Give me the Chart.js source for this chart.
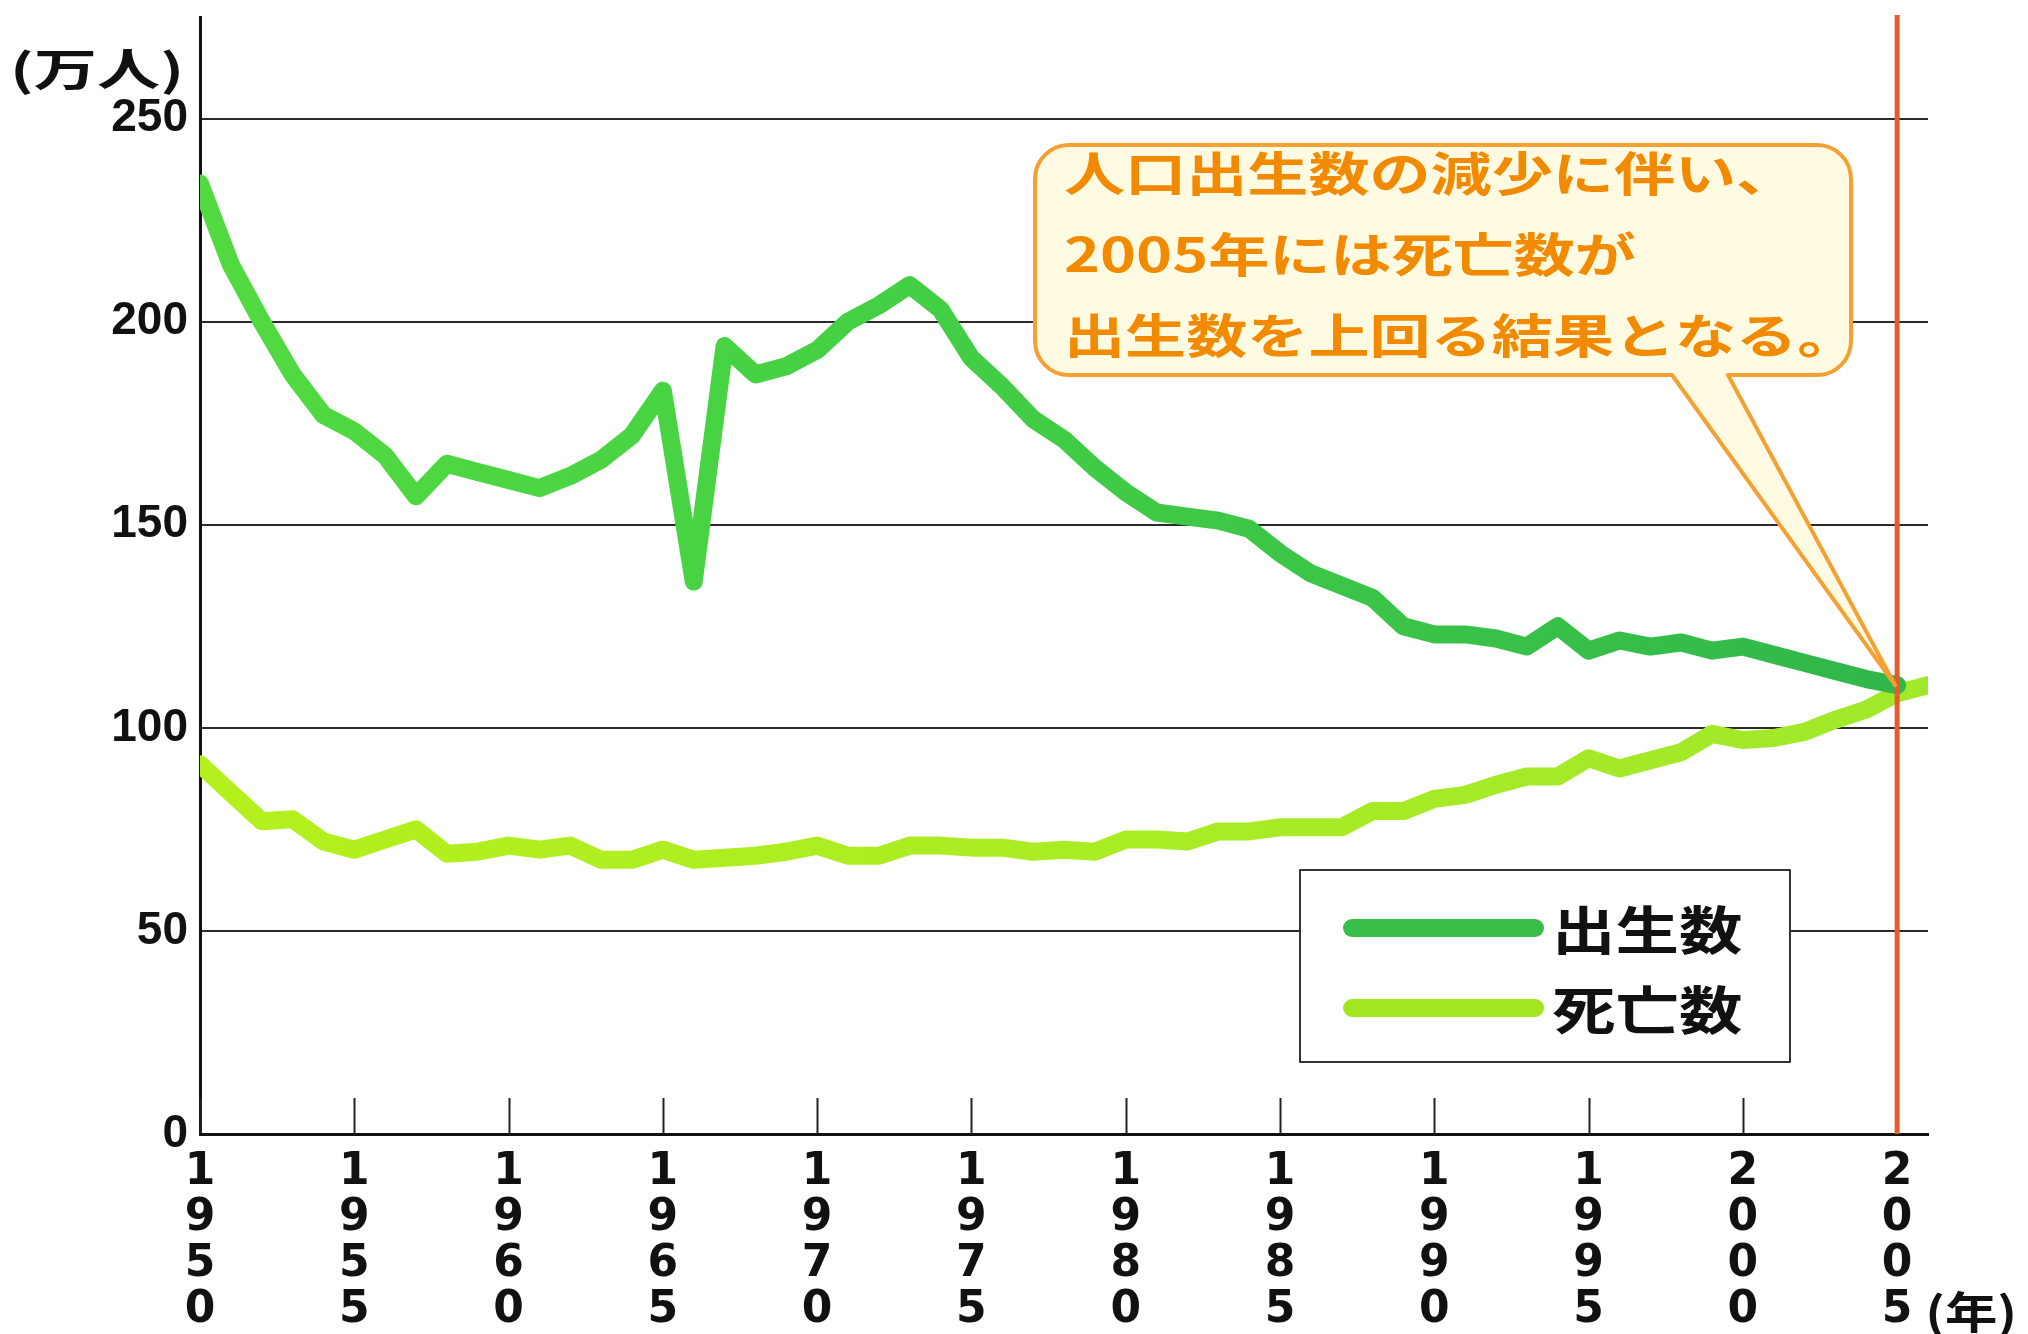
<!DOCTYPE html>
<html lang="ja">
<head>
<meta charset="utf-8">
<title>出生数と死亡数の推移</title>
<script src="https://cdn.jsdelivr.net/npm/chart.js@4.4.1/dist/chart.umd.min.js"></script>
<style>
  html, body { margin: 0; padding: 0; background: #fff; }
  #wrap { width: 2028px; height: 1334px; }
</style>
</head>
<body>
<div id="wrap"><canvas id="vitalChart" width="2028" height="1334"></canvas></div>
<script>
// 出生数・死亡数（万人）
const years = [
  1950, 1951, 1952, 1953, 1954, 1955, 1956, 1957, 1958, 1959,
  1960, 1961, 1962, 1963, 1964, 1965, 1966, 1967, 1968, 1969,
  1970, 1971, 1972, 1973, 1974, 1975, 1976, 1977, 1978, 1979,
  1980, 1981, 1982, 1983, 1984, 1985, 1986, 1987, 1988, 1989,
  1990, 1991, 1992, 1993, 1994, 1995, 1996, 1997, 1998, 1999,
  2000, 2001, 2002, 2003, 2004, 2005, 2006
];
const births = [
  234, 214, 200, 187, 177, 173, 167, 157, 165, 163,
  161, 159, 162, 166, 172, 183, 136, 194, 187, 189,
  193, 200, 204, 209, 203, 191, 184, 176, 171, 164,
  158, 153, 152, 151, 149, 143, 138, 135, 132, 125,
  123, 123, 122, 120, 125, 119, 121.5, 120, 121, 119,
  120, 118, 116, 114, 112, 110.5, null
];
const deaths = [
  91, 84, 77, 77.5, 72, 70, 72.5, 75, 69, 69.5,
  71, 70, 71, 67.5, 67.5, 70, 67.5, 68, 68.5, 69.5,
  71, 68.5, 68.5, 71, 71, 70.5, 70.5, 69.5, 70, 69.5,
  72.5, 72.5, 72, 74.5, 74.5, 75.5, 75.5, 75.5, 79.5, 79.5,
  82.5, 83.5, 86, 88, 88, 92.5, 90, 92, 94, 98.5,
  97, 97.5, 99, 102, 104.5, 108.5, 110.5
];
const seriesNames = ['出生数', '死亡数'];
const xTicks = [1950, 1955, 1960, 1965, 1970, 1975, 1980, 1985, 1990, 1995, 2000, 2005];
const yTicks = [0, 50, 100, 150, 200, 250];
const markYear = 2005;
const noteLines = ['人口出生数の減少に伴い、', '2005年には死亡数が', '出生数を上回る結果となる。'];
const yUnit = '(万人)';
const xUnit = '(年)';

const LATIN = '"Liberation Sans", Arial, Helvetica, sans-serif';
const WIDE = '"DejaVu Sans", Verdana, sans-serif';
const CJK = '"Noto Sans CJK JP", "Noto Sans", sans-serif';

function toPoints(vals) {
  return years.map((yr, i) => ({ x: yr, y: vals[i] }));
}

// 横長の書体に見せるため横方向へ引き伸ばして描く
function wideText(c, text, x, y, sx, align) {
  c.save();
  c.translate(x, y);
  c.scale(sx, 1);
  c.textAlign = align || 'left';
  c.fillText(text, 0, 0);
  c.restore();
}

function fitText(c, text, x, y, width) {
  const w = c.measureText(text).width;
  wideText(c, text, x, y, width / w, 'left');
}

// x軸の目盛り（内向き）
const innerTicks = {
  id: 'innerTicks',
  beforeDatasetsDraw(chart) {
    const { ctx, scales: { x }, chartArea } = chart;
    ctx.save();
    ctx.strokeStyle = '#222';
    ctx.lineWidth = 2;
    xTicks.forEach(t => {
      const px = Math.round(x.getPixelForValue(t)) + 0.5;
      ctx.beginPath();
      ctx.moveTo(px, chartArea.bottom);
      ctx.lineTo(px, chartArea.bottom - 36);
      ctx.stroke();
    });
    ctx.restore();
  }
};

// 2005年の縦線、吹き出し、凡例、単位
const overlay = {
  id: 'overlay',
  afterDatasetsDraw(chart) {
    const { ctx, scales: { x, y }, chartArea } = chart;
    const mx = x.getPixelForValue(markYear);

    ctx.save();
    ctx.strokeStyle = '#e8592b';
    ctx.lineWidth = 5;
    ctx.beginPath();
    ctx.moveTo(mx, chartArea.top - 2);
    ctx.lineTo(mx, chartArea.bottom);
    ctx.stroke();

    // 吹き出し
    const tipX = mx - 2;
    const tipY = y.getPixelForValue(births[years.indexOf(markYear)]);
    const L = 1035, T = 145, R = 1851, B = 375, r = 34;
    const baseL = 1672, baseR = 1728;
    ctx.beginPath();
    ctx.moveTo(L + r, T);
    ctx.lineTo(R - r, T);
    ctx.arcTo(R, T, R, T + r, r);
    ctx.lineTo(R, B - r);
    ctx.arcTo(R, B, R - r, B, r);
    ctx.lineTo(baseR, B);
    ctx.lineTo(tipX, tipY);
    ctx.lineTo(baseL, B);
    ctx.lineTo(L + r, B);
    ctx.arcTo(L, B, L, B - r, r);
    ctx.lineTo(L, T + r);
    ctx.arcTo(L, T, L + r, T, r);
    ctx.closePath();
    ctx.fillStyle = '#fffbe2';
    ctx.fill();
    ctx.strokeStyle = '#f4a032';
    ctx.lineWidth = 4;
    ctx.lineJoin = 'round';
    ctx.stroke();

    ctx.fillStyle = '#f28a00';
    ctx.font = 'bold 47px ' + CJK;
    ctx.textBaseline = 'middle';
    noteLines.forEach((line, i) => {
      wideText(ctx, line, 1064, 173 + i * 81, 1.3, 'left');
    });

    // 凡例
    const lx = 1300, ly = 870, lw = 490, lh = 192;
    ctx.fillStyle = '#fff';
    ctx.fillRect(lx, ly, lw, lh);
    ctx.strokeStyle = '#333';
    ctx.lineWidth = 2;
    ctx.strokeRect(lx, ly, lw, lh);
    const legendColors = ['#38bd48', '#a2e622'];
    chart.data.datasets.forEach((ds, i) => {
      const ry = ly + 58 + i * 80;
      ctx.strokeStyle = legendColors[i];
      ctx.lineWidth = 18;
      ctx.lineCap = 'round';
      ctx.beginPath();
      ctx.moveTo(lx + 52, ry);
      ctx.lineTo(lx + 235, ry);
      ctx.stroke();
      ctx.fillStyle = '#111';
      ctx.font = 'bold 52px ' + CJK;
      ctx.textBaseline = 'middle';
      wideText(ctx, ds.label, lx + 252, ry + 2, 1.22, 'left');
    });

    // 単位
    ctx.fillStyle = '#111';
    ctx.font = 'bold 44px ' + CJK;
    ctx.textBaseline = 'middle';
    fitText(ctx, yUnit, 10, 69, 174);
    fitText(ctx, xUnit, mx + 28, 1312, 92);
    ctx.restore();
  }
};

const ctx = document.getElementById('vitalChart').getContext('2d');
const vitalChart = new Chart(ctx, {
  type: 'line',
  data: {
    datasets: [
      {
        label: seriesNames[0],
        data: toPoints(births),
        borderColor: (c) => {
          const area = c.chart.chartArea;
          if (!area) return '#3fc846';
          const g = c.chart.ctx.createLinearGradient(area.left, 0, area.right, 0);
          g.addColorStop(0, '#52da40');
          g.addColorStop(0.4, '#44d044');
          g.addColorStop(1, '#30b64b');
          return g;
        },
        borderWidth: 18,
        borderJoinStyle: 'round',
        borderCapStyle: 'round',
        pointRadius: 0,
        tension: 0,
        spanGaps: false
      },
      {
        label: seriesNames[1],
        data: toPoints(deaths),
        borderColor: (c) => {
          const area = c.chart.chartArea;
          if (!area) return '#a8ec20';
          const g = c.chart.ctx.createLinearGradient(area.left, 0, area.right, 0);
          g.addColorStop(0, '#b4f01c');
          g.addColorStop(1, '#a0e82a');
          return g;
        },
        borderWidth: 18,
        borderJoinStyle: 'round',
        borderCapStyle: 'round',
        pointRadius: 0,
        tension: 0
      }
    ]
  },
  options: {
    responsive: false,
    devicePixelRatio: 1,
    animation: false,
    events: [],
    layout: { padding: { top: 17, right: 100, left: 0, bottom: 0 } },
    plugins: {
      legend: { display: false },
      tooltip: { enabled: false }
    },
    scales: {
      x: {
        type: 'linear',
        min: 1950,
        max: 2006,
        afterBuildTicks: (axis) => { axis.ticks = xTicks.map(v => ({ value: v })); },
        afterFit: (axis) => { axis.height = 200; axis.paddingLeft = 0; axis.paddingRight = 0; },
        grid: { display: true, drawOnChartArea: false, drawTicks: false },
        border: { display: true, color: '#111', width: 3 },
        ticks: {
          autoSkip: false,
          maxRotation: 0,
          padding: 16,
          color: '#111',
          font: { family: WIDE, size: 44, weight: 'bold', lineHeight: 1.045 },
          callback: (v) => String(v).split('')
        }
      },
      y: {
        min: 0,
        max: 275,
        afterBuildTicks: (axis) => { axis.ticks = yTicks.map(v => ({ value: v })); },
        afterFit: (axis) => { axis.width = 200; axis.paddingTop = 0; axis.paddingBottom = 0; },
        grid: { color: '#2a2a2a', lineWidth: 2, drawTicks: false },
        border: { display: true, color: '#111', width: 3 },
        ticks: {
          padding: 12,
          color: '#111',
          font: { family: LATIN, size: 46, weight: 'bold' }
        }
      }
    }
  },
  plugins: [innerTicks, overlay]
});
</script>
</body>
</html>
